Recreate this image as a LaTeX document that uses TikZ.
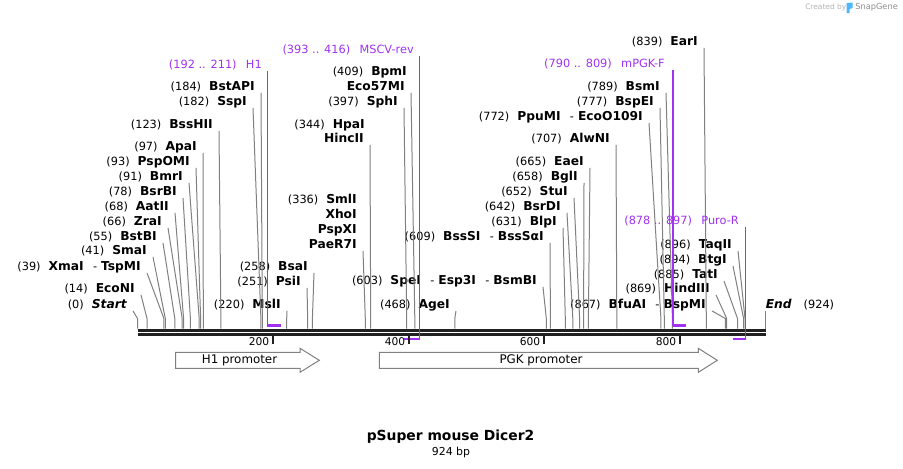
\documentclass[tikz,border=0pt]{standalone}
\usepackage{fontspec}
\setmainfont{DejaVu Sans}
\definecolor{prim}{RGB}{160,50,240}
\definecolor{snap}{RGB}{77,184,255}
\newcommand{\enz}[1]{{\fontsize{9.2}{10}\selectfont\bfseries #1}}

\begin{document}
\begin{tikzpicture}[x=0.75pt,y=-0.75pt,
		lbl/.style={anchor=east,inner xsep=4.5pt,inner ysep=0pt,text height=7pt,text depth=1.5pt,font=\fontsize{8.5}{10}\selectfont},
		plbl/.style={lbl,text=prim},
		cut/.style={draw=black!50,line width=0.75pt},
		prline/.style={draw=prim,line width=1pt},
		prbar/.style={draw=prim,line width=2pt},
		bb/.style={draw=black!87,line width=2.25pt},
		tk/.style={draw=black!87,line width=1.5pt},
		ticklbl/.style={anchor=east,inner sep=0pt,font=\fontsize{8}{9}\selectfont},
		feat/.style={draw=black!50,line width=0.75pt,fill=white},
		featlbl/.style={inner sep=0pt,font=\fontsize{8.9}{10}\selectfont}]
		\useasboundingbox (0,0) rectangle (903,468);

		% sites on the backbone
		\coordinate (s0) at (137.5,328.5);   \coordinate (s14) at (147.0,328.5);
		\coordinate (s39) at (163.9,328.5);  \coordinate (s41) at (165.3,328.5);
		\coordinate (s55) at (174.8,328.5);  \coordinate (s66) at (182.2,328.5);
		\coordinate (s68) at (183.6,328.5);  \coordinate (s78) at (190.4,328.5);
		\coordinate (s91) at (199.2,328.5);  \coordinate (s93) at (200.6,328.5);
		\coordinate (s97) at (203.3,328.5);  \coordinate (s123) at (220.9,328.5);
		\coordinate (s182) at (260.9,328.5); \coordinate (s184) at (262.3,328.5);
		\coordinate (s220) at (286.7,328.5); \coordinate (s251) at (307.7,328.5);
		\coordinate (s258) at (312.4,328.5); \coordinate (s336) at (365.3,328.5);
		\coordinate (s344) at (370.7,328.5); \coordinate (s397) at (406.7,328.5);
		\coordinate (s409) at (414.8,328.5); \coordinate (s468) at (454.8,328.5);
		\coordinate (s603) at (546.3,328.5); \coordinate (s609) at (550.4,328.5);
		\coordinate (s631) at (565.3,328.5); \coordinate (s642) at (572.8,328.5);
		\coordinate (s652) at (579.6,328.5); \coordinate (s658) at (583.6,328.5);
		\coordinate (s665) at (588.4,328.5); \coordinate (s707) at (616.8,328.5);
		\coordinate (s772) at (660.9,328.5); \coordinate (s777) at (664.3,328.5);
		\coordinate (s789) at (672.4,328.5); \coordinate (s839) at (706.3,328.5);
		\coordinate (s867) at (725.3,328.5); \coordinate (s869) at (726.7,328.5);
		\coordinate (s885) at (737.5,328.5); \coordinate (s894) at (743.6,328.5);
		\coordinate (s896) at (745.0,328.5); \coordinate (s924) at (765.5,328.5);

		% enzyme labels
		\node[lbl] (Start) at (133,305) {(0)\hspace{6pt}\enz{\itshape Start}};
		\node[lbl] (EcoNI) at (141,289) {(14)\hspace{6pt}\enz{EcoNI}};
		\node[lbl] (XmaI) at (147,267) {(39)\hspace{6pt}\enz{XmaI}\hspace{7pt}-\hspace{3pt}\enz{TspMI}};
		\node[lbl] (SmaI) at (153,251) {(41)\hspace{6pt}\enz{SmaI}};
		\node[lbl] (BstBI) at (163,237) {(55)\hspace{6pt}\enz{BstBI}};
		\node[lbl] (ZraI) at (168,222) {(66)\hspace{6pt}\enz{ZraI}};
		\node[lbl] (AatII) at (175,207) {(68)\hspace{6pt}\enz{AatII}};
		\node[lbl] (BsrBI) at (183,192) {(78)\hspace{6pt}\enz{BsrBI}};
		\node[lbl] (BmrI) at (189,177) {(91)\hspace{6pt}\enz{BmrI}};
		\node[lbl] (PspOMI) at (196,162) {(93)\hspace{6pt}\enz{PspOMI}};
		\node[lbl] (ApaI) at (203,147) {(97)\hspace{6pt}\enz{ApaI}};
		\node[lbl] (BssHII) at (219,125) {(123)\hspace{6pt}\enz{BssHII}};
		\node[lbl] (SspI) at (253,102) {(182)\hspace{6pt}\enz{SspI}};
		\node[lbl] (BstAPI) at (261,87) {(184)\hspace{6pt}\enz{BstAPI}};
		\node[lbl] (MslI) at (287,305) {(220)\hspace{6pt}\enz{MslI}};
		\node[lbl] (PsiI) at (307,282) {(251)\hspace{6pt}\enz{PsiI}};
		\node[lbl] (BsaI) at (314,267) {(258)\hspace{6pt}\enz{BsaI}};
		\node[lbl] (SmlI) at (363,200) {(336)\hspace{6pt}\enz{SmlI}};
		\node[lbl] (XhoI) at (363,215) {\enz{XhoI}};
		\node[lbl] (PspXI) at (363,230) {\enz{PspXI}};
		\node[lbl] (PaeR7I) at (363,245) {\enz{PaeR7I}};
		\node[lbl] (HpaI) at (371,125) {(344)\hspace{6pt}\enz{HpaI}};
		\node[lbl] (HincII) at (370,139) {\enz{HincII}};
		\node[lbl] (BpmI) at (413,72) {(409)\hspace{6pt}\enz{BpmI}};
		\node[lbl] (Eco57MI) at (411,87) {\enz{Eco57MI}};
		\node[lbl] (SphI) at (404,102) {(397)\hspace{6pt}\enz{SphI}};
		\node[lbl] (AgeI) at (456,305) {(468)\hspace{6pt}\enz{AgeI}};
		\node[lbl] (SpeI) at (543,281) {(603)\hspace{6pt}\enz{SpeI}\hspace{7pt}-\hspace{3pt}\enz{Esp3I}\hspace{7pt}-\hspace{3pt}\enz{BsmBI}};
		\node[lbl] (BssSI) at (550,237) {(609)\hspace{6pt}\enz{BssSI}\hspace{7pt}-\hspace{3pt}\enz{BssSαI}};
		\node[lbl] (BlpI) at (563,222) {(631)\hspace{6pt}\enz{BlpI}};
		\node[lbl] (BsrDI) at (567,207) {(642)\hspace{6pt}\enz{BsrDI}};
		\node[lbl] (StuI) at (574,192) {(652)\hspace{6pt}\enz{StuI}};
		\node[lbl] (BglI) at (584,177) {(658)\hspace{6pt}\enz{BglI}};
		\node[lbl] (EaeI) at (590,162) {(665)\hspace{6pt}\enz{EaeI}};
		\node[lbl] (AlwNI) at (616,139) {(707)\hspace{6pt}\enz{AlwNI}};
		\node[lbl] (PpuMI) at (649,117) {(772)\hspace{6pt}\enz{PpuMI}\hspace{7pt}-\hspace{3pt}\enz{EcoO109I}};
		\node[lbl] (BspEI) at (660,102) {(777)\hspace{6pt}\enz{BspEI}};
		\node[lbl] (BsmI) at (666,87) {(789)\hspace{6pt}\enz{BsmI}};
		\node[lbl] (EarI) at (704,42) {(839)\hspace{6pt}\enz{EarI}};
		\node[lbl] (BfuAI) at (712,305) {(867)\hspace{6pt}\enz{BfuAI}\hspace{7pt}-\hspace{3pt}\enz{BspMI}};
		\node[lbl] (HindIII) at (716,289) {(869)\hspace{6pt}\enz{HindIII}};
		\node[lbl] (TatI) at (724,275) {(885)\hspace{6pt}\enz{TatI}};
		\node[lbl] (BtgI) at (733,260) {(894)\hspace{6pt}\enz{BtgI}};
		\node[lbl] (TaqII) at (738,245) {(896)\hspace{6pt}\enz{TaqII}};
		\node[lbl,anchor=west,inner xsep=0pt] (End) at (765.5,305) {\enz{\itshape End}\hspace{9pt}(924)};

		% cut lines
		\draw[cut] (Start.south east) -- ([yshift=7.5pt]s0) -- (s0);
		\draw[cut] (EcoNI.south east) -- ([yshift=7.5pt]s14) -- (s14);
		\draw[cut] (XmaI.south east) -- ([yshift=7.5pt]s39) -- (s39);
		\draw[cut] (SmaI.south east) -- ([yshift=7.5pt]s41) -- (s41);
		\draw[cut] (BstBI.south east) -- ([yshift=7.5pt]s55) -- (s55);
		\draw[cut] (ZraI.south east) -- ([yshift=7.5pt]s66) -- (s66);
		\draw[cut] (AatII.south east) -- ([yshift=7.5pt]s68) -- (s68);
		\draw[cut] (BsrBI.south east) -- ([yshift=7.5pt]s78) -- (s78);
		\draw[cut] (BmrI.south east) -- ([yshift=7.5pt]s91) -- (s91);
		\draw[cut] (PspOMI.south east) -- ([yshift=7.5pt]s93) -- (s93);
		\draw[cut] (ApaI.south east) -- ([yshift=7.5pt]s97) -- (s97);
		\draw[cut] (BssHII.south east) -- ([yshift=7.5pt]s123) -- (s123);
		\draw[cut] (SspI.south east) -- ([yshift=7.5pt]s182) -- (s182);
		\draw[cut] (BstAPI.south east) -- ([yshift=7.5pt]s184) -- (s184);
		\draw[cut] (MslI.south east) -- ([yshift=7.5pt]s220) -- (s220);
		\draw[cut] (PsiI.south east) -- ([yshift=7.5pt]s251) -- (s251);
		\draw[cut] (BsaI.south east) -- ([yshift=7.5pt]s258) -- (s258);
		\draw[cut] (PaeR7I.south east) -- ([yshift=7.5pt]s336) -- (s336);
		\draw[cut] (HincII.south east) -- ([yshift=7.5pt]s344) -- (s344);
		\draw[cut] (SphI.south east) -- ([yshift=7.5pt]s397) -- (s397);
		\draw[cut] (Eco57MI.south east) -- ([yshift=7.5pt]s409) -- (s409);
		\draw[cut] (AgeI.south east) -- ([yshift=7.5pt]s468) -- (s468);
		\draw[cut] (SpeI.south east) -- ([yshift=7.5pt]s603) -- (s603);
		\draw[cut] (BssSI.south east) -- ([yshift=7.5pt]s609) -- (s609);
		\draw[cut] (BlpI.south east) -- ([yshift=7.5pt]s631) -- (s631);
		\draw[cut] (BsrDI.south east) -- ([yshift=7.5pt]s642) -- (s642);
		\draw[cut] (StuI.south east) -- ([yshift=7.5pt]s652) -- (s652);
		\draw[cut] (BglI.south east) -- ([yshift=7.5pt]s658) -- (s658);
		\draw[cut] (EaeI.south east) -- ([yshift=7.5pt]s665) -- (s665);
		\draw[cut] (AlwNI.south east) -- ([yshift=7.5pt]s707) -- (s707);
		\draw[cut] (PpuMI.south east) -- ([yshift=7.5pt]s772) -- (s772);
		\draw[cut] (BspEI.south east) -- ([yshift=7.5pt]s777) -- (s777);
		\draw[cut] (BsmI.south east) -- ([yshift=7.5pt]s789) -- (s789);
		\draw[cut] (EarI.south east) -- ([yshift=7.5pt]s839) -- (s839);
		\draw[cut] (BfuAI.south east) -- ([yshift=7.5pt]s867) -- (s867);
		\draw[cut] (HindIII.south east) -- ([yshift=7.5pt]s869) -- (s869);
		\draw[cut] (TatI.south east) -- ([yshift=7.5pt]s885) -- (s885);
		\draw[cut] (BtgI.south east) -- ([yshift=7.5pt]s894) -- (s894);
		\draw[cut] (TaqII.south east) -- ([yshift=7.5pt]s896) -- (s896);
		\draw[cut] (End.south west) -- (s924);

		% primers
		\coordinate (p192) at (267.7,325.5); \coordinate (p211) at (280.6,325.5);
		\coordinate (p393) at (404.0,339);   \coordinate (p416) at (419.5,339);
		\coordinate (p790) at (673.1,325.5); \coordinate (p809) at (686.0,325.5);
		\coordinate (p878) at (732.8,339);   \coordinate (p897) at (745.7,339);
		\node[plbl] (H1) at (268,65) {(192 .. 211)\hspace{7pt}H1};
		\node[plbl] (MSCVrev) at (420,50) {(393 .. 416)\hspace{7pt}MSCV-rev};
		\node[plbl] (mPGKF) at (671,64) {(790 .. 809)\hspace{7pt}mPGK-F};
		\node[plbl] (PuroR) at (745,221) {(878 .. 897)\hspace{7pt}Puro-R};
		\draw[prline] (p192 |- H1.south east) -- (p192);
		\draw[prbar] ([xshift=-0.4pt]p192) -- (p211);
		\draw[prline] (p790 |- mPGKF.south east) -- (p790);
		\draw[prbar] ([xshift=-0.4pt]p790) -- (p809);

		% backbone
		\coordinate (L) at (137.5,330); \coordinate (R) at (766,330);
		\draw[bb] (L) -- (R);
		\draw[bb] ([yshift=-3.2pt]L) -- ([yshift=-3.2pt]R);

		% reverse primers over the backbone
		\draw[prline] (p416 |- MSCVrev.south east) -- (p416);
		\draw[prbar] ([xshift=0.4pt]p416) -- (p393);
		\draw[prline] (p897 |- PuroR.south east) -- (p897);
		\draw[prbar] ([xshift=0.4pt]p897) -- (p878);

		% ticks
		\coordinate (t200) at (273.1,336); \coordinate (t400) at (408.7,336);
		\coordinate (t600) at (544.3,336); \coordinate (t800) at (679.9,336);
		\draw[tk] (t200) -- ++(0,8);
		\draw[tk] (t400) -- ++(0,8);
		\draw[tk] (t600) -- ++(0,8);
		\draw[tk] (t800) -- ++(0,8);
		\node[ticklbl] (n200) at (269.5,342) {200};
		\node[ticklbl] (n400) at (405.5,342) {400};
		\node[ticklbl] (n600) at (540.5,342) {600};
		\node[ticklbl] (n800) at (676.5,342) {800};

		% features
		\draw[feat] (175.7,352.3) -- (300,352.3) -- (300,348.3) -- (319.3,360.3)
			-- (300,372.3) -- (300,368.3) -- (175.7,368.3) -- cycle;
		\node[featlbl] (h1prom) at (239.5,360.3) {H1 promoter};
		\draw[feat] (379.3,352.3) -- (698.3,352.3) -- (698.3,348.3) -- (717.3,360.3)
			-- (698.3,372.3) -- (698.3,368.3) -- (379.3,368.3) -- cycle;
		\node[featlbl] (pgkprom) at (541,360.3) {PGK promoter};

		% title
		\node[inner sep=0pt,font=\fontsize{10.4}{12}\selectfont\bfseries] (title) at (450.5,437) {pSuper mouse Dicer2};
		\node[inner sep=0pt,font=\fontsize{8.2}{10}\selectfont] (size) at (451,452) {924 bp};

		% watermark
		\node[anchor=west,inner sep=0pt,text=black!30,font=\fontsize{5.6}{6}\selectfont] (made) at (805,7.5) {Created by};
		\fill[snap] (846.5,3) -- (852.5,2.5) -- (852.5,8) -- (849.5,9) -- (849.5,13) -- (846.5,13) -- cycle;
		\node[anchor=west,inner sep=0pt,text=black!45,font=\fontsize{6.2}{7}\selectfont] (brand) at (855,7.5) {SnapGene};
\end{tikzpicture}
\end{document}
